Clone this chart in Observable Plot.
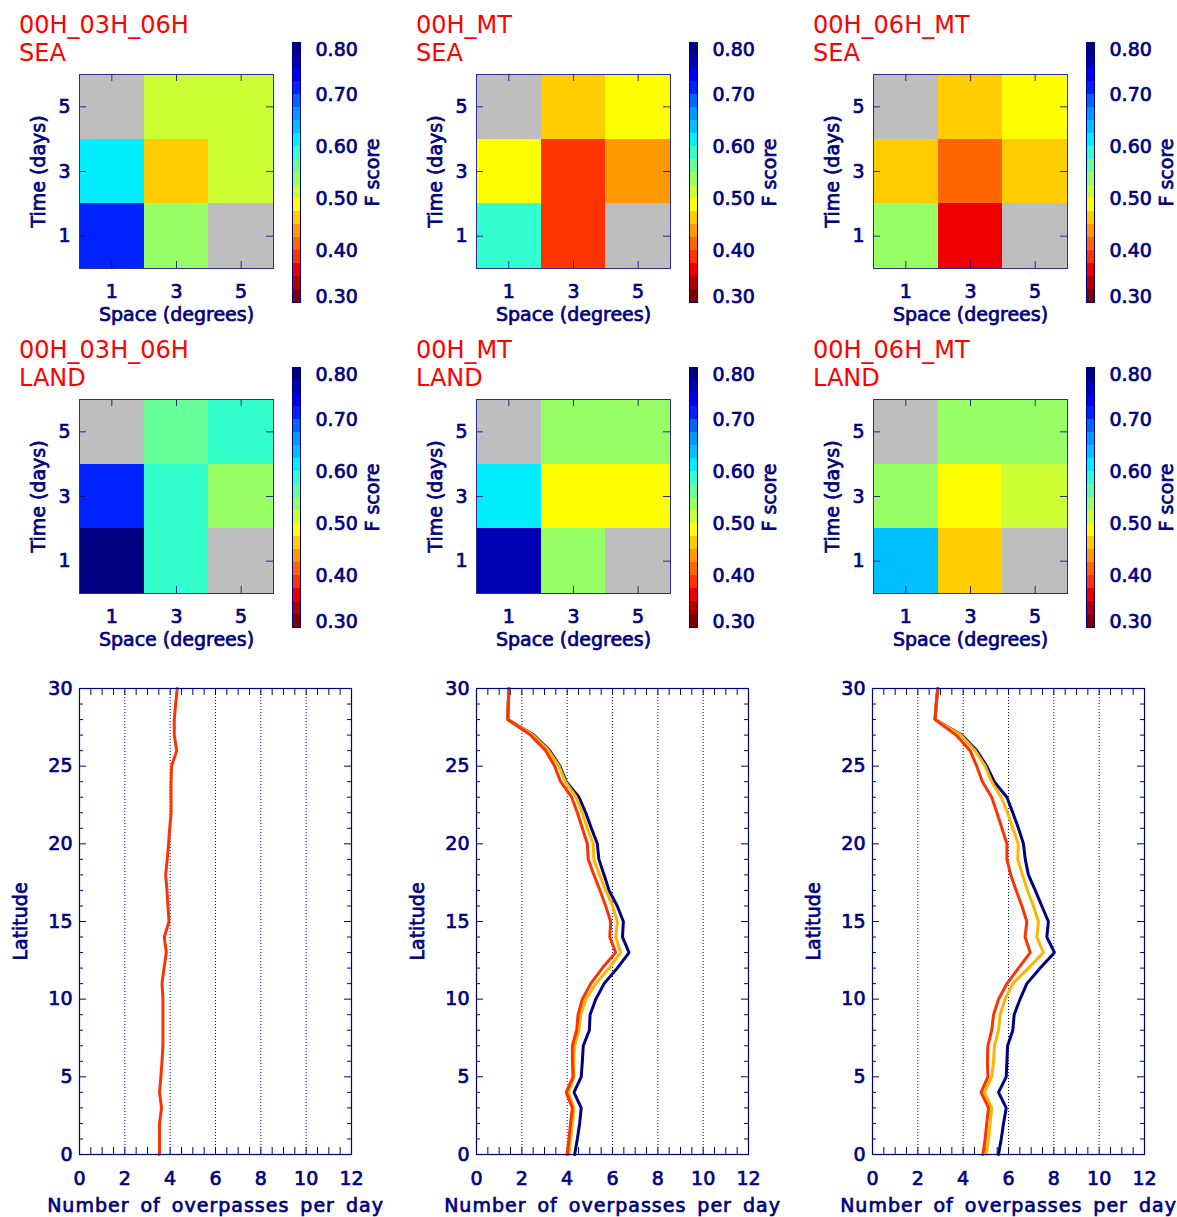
<!DOCTYPE html>
<html><head><meta charset="utf-8">
<script src="https://cdn.jsdelivr.net/npm/d3@7"></script>
<script src="https://cdn.jsdelivr.net/npm/@observablehq/plot@0.6"></script>
<style>
body{margin:0;background:#fff;}
#root{position:relative;width:1177px;height:1217px;overflow:hidden;background:#fff;}
.panel{position:absolute;width:400px;}
.panel svg{max-width:none !important;}
.title{position:absolute;color:#ff0000;font-size:24px;line-height:28px;font-family:"DejaVu Sans",sans-serif;white-space:pre;}
svg text{stroke:currentColor;stroke-width:0.7px;}
</style></head>
<body><div id="root"></div>
<script>
const NAVY = "#000080";
const GRAY = "#bebebe";

// ---- heatmap data: rows = time (1,3,5 days), columns = space (1,3,5 degrees)
const spaceDeg = [1, 3, 5];
const timeDays = [1, 3, 5];
const sea_00H_03H_06H  = [[0.72, 0.53, null], [0.61, 0.46, 0.51], [null, 0.51, 0.51]];
const sea_00H_MT       = [[0.585, 0.385, null], [0.49, 0.385, 0.44], [null, 0.46, 0.49]];
const sea_00H_06H_MT   = [[0.53, 0.36, null], [0.46, 0.41, 0.46], [null, 0.46, 0.49]];
const land_00H_03H_06H = [[0.79, 0.585, null], [0.72, 0.585, 0.53], [null, 0.56, 0.585]];
const land_00H_MT      = [[0.765, 0.53, null], [0.61, 0.49, 0.49], [null, 0.53, 0.53]];
const land_00H_06H_MT  = [[0.635, 0.46, null], [0.53, 0.49, 0.51], [null, 0.53, 0.53]];

// ---- colour bar
const fTicks = [0.30, 0.40, 0.50, 0.60, 0.70, 0.80];
const fThresholds = [0.325, 0.35, 0.375, 0.40, 0.425, 0.45, 0.475, 0.50, 0.525, 0.55,
                     0.575, 0.60, 0.625, 0.65, 0.675, 0.70, 0.725, 0.75, 0.775];
const fColors = ["#800000", "#b00000", "#ee0000", "#ff3300", "#ff6600", "#ff9900", "#ffcc00",
                 "#ffff00", "#ccff33", "#99ff66", "#66ff99", "#33ffcc", "#00eeff", "#00c0ff",
                 "#0099ff", "#0066ff", "#0022ff", "#0000ee", "#0000b4", "#000080"];

// ---- line plots
const latitude = [0,1,2,3,4,5,6,7,8,9,10,11,12,13,14,15,16,17,18,19,20,21,22,23,24,25,26,27,28,29,30];
const p1_red  = [3.53,3.53,3.53,3.62,3.53,3.59,3.64,3.68,3.68,3.68,3.68,3.64,3.73,3.83,3.74,3.95,3.90,3.86,3.80,3.87,3.93,3.98,4.04,4.04,4.04,4.06,4.29,4.18,4.18,4.24,4.31];
const p2_navy = [4.33,4.45,4.55,4.62,4.30,4.62,4.67,4.71,4.98,5.01,5.26,5.63,6.21,6.73,6.44,6.48,6.21,5.85,5.63,5.40,5.33,5.07,4.82,4.52,3.96,3.68,3.23,2.53,1.38,1.40,1.43];
const p2_gold = [4.08,4.15,4.24,4.30,4.05,4.30,4.30,4.33,4.52,4.60,4.83,5.26,5.85,6.36,6.14,6.21,6.01,5.70,5.43,5.18,5.15,4.89,4.67,4.40,3.92,3.64,3.18,2.49,1.38,1.40,1.43];
const p2_red  = [4.00,4.08,4.15,4.23,3.96,4.26,4.23,4.23,4.42,4.48,4.67,5.04,5.55,6.14,5.88,5.92,5.70,5.45,5.18,4.93,4.89,4.67,4.45,4.20,3.71,3.45,3.05,2.39,1.38,1.40,1.43];
const p3_navy = [5.56,5.68,5.78,5.90,5.56,5.90,5.93,5.96,6.19,6.25,6.51,6.81,7.40,8.03,7.69,7.76,7.47,7.18,6.88,6.74,6.66,6.44,6.19,5.93,5.37,5.04,4.60,3.94,2.76,2.81,2.88];
const p3_gold = [5.01,5.12,5.19,5.26,4.94,5.26,5.34,5.38,5.56,5.63,5.85,6.19,6.88,7.54,7.25,7.32,7.10,6.84,6.62,6.41,6.43,6.19,5.96,5.68,5.26,4.97,4.53,3.90,2.76,2.81,2.88];
const p3_red  = [4.87,4.97,5.04,5.12,4.79,5.09,5.07,5.09,5.26,5.34,5.56,5.93,6.44,6.96,6.73,6.81,6.59,6.34,6.10,5.93,5.93,5.71,5.49,5.26,4.85,4.60,4.31,3.69,2.76,2.81,2.88];
const xTicks = [0, 2, 4, 6, 8, 10, 12];
const xGrid = [2, 4, 6, 8, 10];
const yTicks = [0, 5, 10, 15, 20, 25, 30];

const FONT = '"DejaVu Sans", sans-serif';
const colorOpt = {type: "threshold", domain: fThresholds, range: fColors};
const root = document.getElementById("root");
const baseStyle = {fontFamily: FONT, fontSize: "19px", color: NAVY, background: "transparent", overflow: "visible", maxWidth: "none"};
const X_LABEL = "Number of overpasses per day";

function place(node, left, top) {
  const d = document.createElement("div");
  d.className = "panel";
  d.style.left = left + "px"; d.style.top = top + "px";
  d.appendChild(node);
  root.appendChild(d);
}
function title(lines, left, top) {
  const d = document.createElement("div");
  d.className = "title";
  d.style.left = left + "px"; d.style.top = top + "px";
  d.textContent = lines.join("\n");
  root.appendChild(d);
}
function cells(m) {
  const out = [];
  timeDays.forEach((t, i) => spaceDeg.forEach((s, j) => out.push({s, t, v: m[i][j]})));
  return out;
}

function heatmap(m, left, top) {
  const data = cells(m);
  const W = 400, H = 330, fw = 194, fh = 194, mt = 74, ml = 79, tk = 7;
  const rectOpts = {x1: d => d.s - 1, x2: d => d.s + 1, y1: d => d.t - 1, y2: d => d.t + 1, inset: 0, shapeRendering: "crispEdges"};
  const p = Plot.plot({
    width: W, height: H, marginLeft: ml, marginRight: W - ml - fw, marginTop: mt, marginBottom: H - mt - fh,
    x: {domain: [0, 6]}, y: {domain: [0, 6]}, color: colorOpt,
    style: baseStyle,
    marks: [
      Plot.rect(data.filter(d => d.v == null), {...rectOpts, fill: GRAY}),
      Plot.rect(data.filter(d => d.v != null), {...rectOpts, fill: "v"}),
      Plot.ruleX(spaceDeg, {x: d => d, insetBottom: fh - tk, stroke: NAVY, strokeOpacity: 0.8}),
      Plot.ruleX(spaceDeg, {x: d => d, insetTop: fh - tk, stroke: NAVY, strokeOpacity: 0.8}),
      Plot.ruleY(timeDays, {y: d => d, insetRight: fw - tk, stroke: NAVY, strokeOpacity: 0.8}),
      Plot.ruleY(timeDays, {y: d => d, insetLeft: fw - tk, stroke: NAVY, strokeOpacity: 0.8}),
      Plot.frame({stroke: "#2a2a9a", strokeWidth: 1}),
      Plot.axisX({ticks: spaceDeg, tickSize: 0, tickPadding: 16, tickFormat: d => String(d), label: null}),
      Plot.axisY({ticks: timeDays, tickSize: 0, tickPadding: 9, tickFormat: d => String(d), label: null}),
      Plot.text(["Space (degrees)"], {frameAnchor: "bottom", dy: 46, lineAnchor: "middle", textAnchor: "middle", fill: NAVY, text: d => d}),
      Plot.text(["Time (days)"], {frameAnchor: "left", dx: -41, rotate: -90, lineAnchor: "middle", textAnchor: "middle", fill: NAVY, text: d => d})
    ]
  });
  place(p, left, top);
  colorbar(left, top);
}

function colorbar(left, top) {
  const bins = fThresholds.map((t, i) => ({lo: i === 0 ? 0.30 : fThresholds[i - 1], hi: t}));
  bins.push({lo: fThresholds[fThresholds.length - 1], hi: 0.80});
  const W = 400, H = 330;
  const p = Plot.plot({
    width: W, height: H, marginLeft: 292, marginRight: W - 300, marginTop: 42, marginBottom: H - 302,
    x: {domain: [0, 1], axis: null}, y: {domain: [0.3, 0.8], axis: null}, color: colorOpt,
    style: baseStyle,
    marks: [
      Plot.rect(bins, {x1: 0, x2: 1, y1: "lo", y2: "hi", fill: d => (d.lo + d.hi) / 2, inset: 0, shapeRendering: "crispEdges"}),
      Plot.frame({stroke: NAVY, strokeWidth: 1}),
      Plot.text(fTicks.filter(v => v > 0.31 && v < 0.79), {x: 1, y: d => d, dx: 15, textAnchor: "start", fill: NAVY, text: d => d.toFixed(2)}),
      Plot.text(fTicks.filter(v => v >= 0.79), {x: 1, y: d => d, dx: 15, dy: 7, textAnchor: "start", fill: NAVY, text: d => d.toFixed(2)}),
      Plot.text(fTicks.filter(v => v <= 0.31), {x: 1, y: d => d, dx: 15, dy: -6, textAnchor: "start", fill: NAVY, text: d => d.toFixed(2)}),
      Plot.text(["F score"], {frameAnchor: "right", dx: 72, rotate: -90, lineAnchor: "middle", textAnchor: "middle", fill: NAVY, text: d => d})
    ]
  });
  place(p, left, top);
}

function linePlot(series, left, top) {
  const W = 400, H = 547, ml = 79, fw = 272, mt = 18, fh = 466;
  const xMinor = d3.range(0, 12.01, 0.5);
  const yMinor = latitude.filter(v => v % 5 !== 0);
  const tickMarks = [
    Plot.ruleX(xMinor, {x: d => d, insetBottom: fh - 7, stroke: NAVY}),
    Plot.ruleX(xMinor, {x: d => d, insetTop: fh - 7, stroke: NAVY}),
    Plot.ruleY(yMinor, {y: d => d, insetRight: fw - 4, stroke: NAVY}),
    Plot.ruleY(yMinor, {y: d => d, insetLeft: fw - 4, stroke: NAVY}),
    Plot.ruleY(yTicks, {y: d => d, insetRight: fw - 7, stroke: NAVY}),
    Plot.ruleY(yTicks, {y: d => d, insetLeft: fw - 7, stroke: NAVY})
  ];
  const lines = series.map(s => Plot.line(latitude.map((lat, i) => ({lat, n: s.values[i]})),
    {x: "n", y: "lat", stroke: s.color, strokeWidth: 3, strokeLinejoin: "miter", curve: "linear"}));
  const p = Plot.plot({
    width: W, height: H, marginLeft: ml, marginRight: W - ml - fw, marginTop: mt, marginBottom: H - mt - fh,
    x: {domain: [0, 12]}, y: {domain: [0, 30]},
    style: baseStyle,
    marks: [
      Plot.ruleX(xGrid, {x: d => d, stroke: NAVY, strokeWidth: 1, strokeDasharray: "1,2"}),
      ...tickMarks,
      ...lines,
      Plot.frame({stroke: NAVY, strokeWidth: 1.2}),
      Plot.axisX({ticks: xTicks, tickSize: 0, tickPadding: 17, tickFormat: d => String(d), label: null}),
      Plot.axisY({ticks: yTicks, tickSize: 0, tickPadding: 7, tickFormat: d => String(d), label: null}),
      Plot.text([X_LABEL], {frameAnchor: "bottom", dy: 51, lineAnchor: "middle", textAnchor: "middle", fill: NAVY, text: d => d}),
      Plot.text(["Latitude"], {frameAnchor: "left", dx: -59, rotate: -90, lineAnchor: "middle", textAnchor: "middle", fill: NAVY, text: d => d})
    ]
  });
  // widen the axis title's letter/word spacing like the original
  p.querySelectorAll("text").forEach(t => {
    if (t.textContent === X_LABEL) { t.style.letterSpacing = "1px"; t.style.wordSpacing = "4px"; }
  });
  place(p, left, top);
}

// Row 1: SEA
heatmap(sea_00H_03H_06H, 0, 0);
heatmap(sea_00H_MT, 397, 0);
heatmap(sea_00H_06H_MT, 794, 0);
title(["00H_03H_06H", "SEA"], 19, 11);
title(["00H_MT", "SEA"], 416, 11);
title(["00H_06H_MT", "SEA"], 813, 11);
// Row 2: LAND
heatmap(land_00H_03H_06H, 0, 325);
heatmap(land_00H_MT, 397, 325);
heatmap(land_00H_06H_MT, 794, 325);
title(["00H_03H_06H", "LAND"], 19, 336);
title(["00H_MT", "LAND"], 416, 336);
title(["00H_06H_MT", "LAND"], 813, 336);
// Row 3: overpasses
linePlot([{values: p1_red, color: "#ff3300"}], 0, 670);
linePlot([{values: p2_navy, color: "#000080"}, {values: p2_gold, color: "#ffb400"}, {values: p2_red, color: "#ff3300"}], 397, 670);
linePlot([{values: p3_navy, color: "#000080"}, {values: p3_gold, color: "#ffb400"}, {values: p3_red, color: "#ff3300"}], 793, 670);
</script>
</body></html>
